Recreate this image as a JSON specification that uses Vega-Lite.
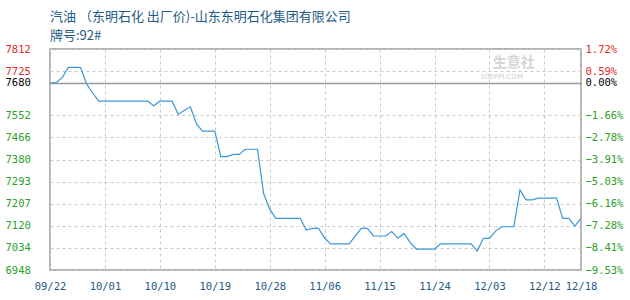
{
  "$schema": "https://vega.github.io/schema/vega-lite/v6.json",
  "width": 531,
  "height": 221,
  "autosize": {"type": "none"},
  "padding": {"left": 50, "top": 49, "right": 49, "bottom": 30},
  "background": "white",
  "title": {
    "text": ["汽油 （东明石化 出厂价)-山东东明石化集团有限公司", "牌号:92#"],
    "anchor": "start",
    "frame": "group",
    "font": "Noto Sans CJK SC",
    "fontSize": 13,
    "fontWeight": "normal",
    "color": "#1d5a86",
    "lineHeight": 19,
    "offset": 1
  },
  "config": {
    "view": {"stroke": "#9a9a9a", "strokeWidth": 1.5},
    "axis": {"labelFont": "DejaVu Sans Mono", "labelFontSize": 10.5, "domain": false, "ticks": false}
  },
  "resolve": {"axis": {"y": "independent"}},
  "datasets": {
    "price": [
      {"date": "2019-09-22", "price": 7680},
      {"date": "2019-09-23", "price": 7680},
      {"date": "2019-09-24", "price": 7700},
      {"date": "2019-09-25", "price": 7740},
      {"date": "2019-09-27", "price": 7740},
      {"date": "2019-09-28", "price": 7675},
      {"date": "2019-09-29", "price": 7640},
      {"date": "2019-09-30", "price": 7608},
      {"date": "2019-10-08", "price": 7608},
      {"date": "2019-10-09", "price": 7590},
      {"date": "2019-10-10", "price": 7608},
      {"date": "2019-10-12", "price": 7608},
      {"date": "2019-10-13", "price": 7557},
      {"date": "2019-10-14", "price": 7572},
      {"date": "2019-10-15", "price": 7586},
      {"date": "2019-10-16", "price": 7519},
      {"date": "2019-10-17", "price": 7491},
      {"date": "2019-10-19", "price": 7491},
      {"date": "2019-10-20", "price": 7391},
      {"date": "2019-10-21", "price": 7391},
      {"date": "2019-10-22", "price": 7400},
      {"date": "2019-10-23", "price": 7400},
      {"date": "2019-10-24", "price": 7420},
      {"date": "2019-10-26", "price": 7420},
      {"date": "2019-10-27", "price": 7247},
      {"date": "2019-10-28", "price": 7186},
      {"date": "2019-10-29", "price": 7150},
      {"date": "2019-11-02", "price": 7150},
      {"date": "2019-11-03", "price": 7104},
      {"date": "2019-11-04", "price": 7111},
      {"date": "2019-11-05", "price": 7111},
      {"date": "2019-11-06", "price": 7073},
      {"date": "2019-11-07", "price": 7050},
      {"date": "2019-11-10", "price": 7050},
      {"date": "2019-11-12", "price": 7111},
      {"date": "2019-11-13", "price": 7111},
      {"date": "2019-11-14", "price": 7081},
      {"date": "2019-11-16", "price": 7081},
      {"date": "2019-11-17", "price": 7098},
      {"date": "2019-11-18", "price": 7072},
      {"date": "2019-11-19", "price": 7091},
      {"date": "2019-11-20", "price": 7056},
      {"date": "2019-11-21", "price": 7030},
      {"date": "2019-11-24", "price": 7030},
      {"date": "2019-11-25", "price": 7050},
      {"date": "2019-11-30", "price": 7050},
      {"date": "2019-12-01", "price": 7022},
      {"date": "2019-12-02", "price": 7072},
      {"date": "2019-12-03", "price": 7072},
      {"date": "2019-12-04", "price": 7100},
      {"date": "2019-12-05", "price": 7117},
      {"date": "2019-12-07", "price": 7117},
      {"date": "2019-12-08", "price": 7261},
      {"date": "2019-12-09", "price": 7222},
      {"date": "2019-12-10", "price": 7222},
      {"date": "2019-12-11", "price": 7229},
      {"date": "2019-12-14", "price": 7229},
      {"date": "2019-12-15", "price": 7150},
      {"date": "2019-12-16", "price": 7150},
      {"date": "2019-12-17", "price": 7120},
      {"date": "2019-12-18", "price": 7150}
    ],
    "logo": [
      {"date": "2019-12-07", "price": 7757, "label": "生意社"}
    ],
    "logo2": [
      {"date": "2019-12-05", "price": 7703, "label": "100PPI.COM"}
    ]
  },
  "layer": [
    {
      "data": {"name": "price"},
      "mark": {"type": "line", "color": "#3a98d8", "strokeWidth": 1.2, "interpolate": "linear"},
      "encoding": {
        "x": {
          "field": "date",
          "type": "temporal",
          "scale": {"type": "utc", "domain": [{"year": 2019, "month": 9, "date": 22, "utc": true}, {"year": 2019, "month": 12, "date": 18, "utc": true}]},
          "axis": {
            "title": null,
            "labelExpr": "utcFormat(datum.value, '%m/%d')",
            "values": [
              {"year": 2019, "month": 9, "date": 22, "utc": true},
              {"year": 2019, "month": 10, "date": 1, "utc": true},
              {"year": 2019, "month": 10, "date": 10, "utc": true},
              {"year": 2019, "month": 10, "date": 19, "utc": true},
              {"year": 2019, "month": 10, "date": 28, "utc": true},
              {"year": 2019, "month": 11, "date": 6, "utc": true},
              {"year": 2019, "month": 11, "date": 15, "utc": true},
              {"year": 2019, "month": 11, "date": 24, "utc": true},
              {"year": 2019, "month": 12, "date": 3, "utc": true},
              {"year": 2019, "month": 12, "date": 12, "utc": true},
              {"year": 2019, "month": 12, "date": 18, "utc": true}
            ],
            "labelColor": "#1d5a86",
            "labelPadding": 11,
            "labelFlush": false,
            "labelOverlap": false,
            "grid": true,
            "gridColor": "#c8c8c8",
            "gridDash": [3, 3]
          }
        },
        "y": {
          "field": "price",
          "type": "quantitative",
          "scale": {"domain": [6948, 7812], "nice": false, "zero": false},
          "axis": {
            "title": null,
            "orient": "left",
            "values": [6948, 7034.4, 7120.8, 7207.2, 7293.6, 7380, 7466.4, 7552.8, 7680, 7725.6, 7812],
            "labelExpr": "floor(datum.value)",
            "labelAlign": "left",
            "labelPadding": 45,
            "labelFlush": false,
            "labelOverlap": false,
            "labelColor": {"expr": "datum.value > 7680 ? '#e8282a' : (datum.value == 7680 ? '#000000' : '#2aa02a')"},
            "grid": true,
            "gridColor": {"expr": "datum.value == 7680 ? '#9a9a9a' : '#c8c8c8'"},
            "gridDash": {"expr": "datum.value == 7680 ? [] : [3, 3]"},
            "gridWidth": {"expr": "datum.value == 7680 ? 1.5 : 1"}
          }
        }
      }
    },
    {
      "data": {"name": "price"},
      "mark": {"type": "line", "opacity": 0},
      "encoding": {
        "x": {"field": "date", "type": "temporal"},
        "y": {
          "field": "price",
          "type": "quantitative",
          "axis": {
            "orient": "right",
            "title": null,
            "grid": false,
            "values": [6948, 7034.4, 7120.8, 7207.2, 7293.6, 7380, 7466.4, 7552.8, 7680, 7725.6, 7812],
            "labelExpr": "format((datum.value / 7680 - 1) * 100, '.2f') + '%'",
            "labelAlign": "left",
            "labelPadding": 4,
            "labelFlush": false,
            "labelOverlap": false,
            "labelColor": {"expr": "datum.value > 7680 ? '#e8282a' : (datum.value == 7680 ? '#000000' : '#2aa02a')"}
          }
        }
      }
    },
    {
      "data": {"name": "logo"},
      "mark": {"type": "text", "font": "Noto Sans CJK SC", "fontSize": 14, "fontWeight": "bold", "color": "#d4d4d4"},
      "encoding": {
        "x": {"field": "date", "type": "temporal"},
        "y": {"field": "price", "type": "quantitative", "axis": null},
        "text": {"field": "label"}
      }
    },
    {
      "data": {"name": "logo2"},
      "mark": {"type": "text", "font": "DejaVu Sans", "fontSize": 7, "color": "#d0d0d0"},
      "encoding": {
        "x": {"field": "date", "type": "temporal"},
        "y": {"field": "price", "type": "quantitative", "axis": null},
        "text": {"field": "label"}
      }
    }
  ]
}
